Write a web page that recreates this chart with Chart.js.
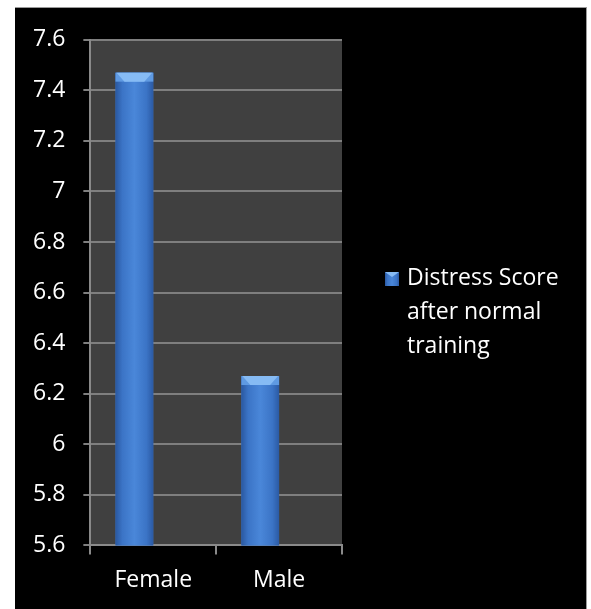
<!DOCTYPE html>
<html>
<head>
<meta charset="utf-8">
<script src="https://cdn.jsdelivr.net/npm/chart.js@4"></script>
<style>
    html, body { margin: 0; padding: 0; background: #fff; }
    #wrap {
        position: absolute;
        left: 15px;
        top: 7px;
        width: 571px;
        height: 602px;
        background: #000;
        border-top: 1px solid #9a9a9a;
        border-right: 1px solid #9a9a9a;
    }
</style>
</head>
<body>
<div id="wrap"><canvas id="barChart"></canvas></div>
<script>
// BAR CHART

const categories = ['Female', 'Male'];
const seriesLabel = ['Distress Score', 'after normal', 'training'];
const distress = [7.47, 6.27];
const emptySeries = [null, null];
const yTicks = [5.6, 5.8, 6, 6.2, 6.4, 6.6, 6.8, 7, 7.2, 7.4, 7.6];

const FONT = 'Open Sans';

function barGradient(ctx, left, right) {
    const g = ctx.createLinearGradient(left, 0, right, 0);
    g.addColorStop(0, '#2a58a0');
    g.addColorStop(0.18, '#3b74c6');
    g.addColorStop(0.5, '#4a87d9');
    g.addColorStop(0.82, '#3b74c6');
    g.addColorStop(1, '#2b5aa4');
    return g;
}

// dark plot area behind the bars
const plotBackground = {
    id: 'plotBackground',
    beforeDraw(chart) {
        const { ctx, chartArea: a } = chart;
        ctx.save();
        ctx.fillStyle = '#404040';
        ctx.fillRect(a.left, a.top, a.right - a.left, a.bottom - a.top);
        ctx.restore();
    }
};

// shading and bevelled top over each bar
const bevelBars = {
    id: 'bevelBars',
    afterDatasetsDraw(chart) {
        const ctx = chart.ctx;
        const bottom = chart.chartArea.bottom;
        chart.getDatasetMeta(0).data.forEach(bar => {
            const { x, y, base, width } = bar.getProps(['x', 'y', 'base', 'width'], true);
            const l = x - width / 2, r = x + width / 2, d = 9;
            const b = Math.min(base, bottom);
            ctx.save();
            ctx.fillStyle = barGradient(ctx, l, r);
            ctx.fillRect(l, y, width, b - y);
            ctx.fillStyle = '#5f9ae2';
            ctx.fillRect(l, y, width, d);
            ctx.fillStyle = '#86bbf4';
            ctx.beginPath();
            ctx.moveTo(l + 1, y);
            ctx.lineTo(r - 1, y);
            ctx.lineTo(r - d, y + d);
            ctx.lineTo(l + d, y + d);
            ctx.closePath();
            ctx.fill();
            ctx.restore();
        });
    }
};

// legend to the right of the plot, wrapped over three lines
const sideLegend = {
    id: 'sideLegend',
    afterDraw(chart) {
        const ctx = chart.ctx;
        const a = chart.chartArea;
        const bx = a.right + 43, by = 264, s = 14;
        ctx.save();
        ctx.fillStyle = barGradient(ctx, bx, bx + s);
        ctx.fillRect(bx, by, s, s);
        ctx.fillStyle = '#86bbf4';
        ctx.beginPath();
        ctx.moveTo(bx, by);
        ctx.lineTo(bx + s, by);
        ctx.lineTo(bx + s / 2, by + 5);
        ctx.closePath();
        ctx.fill();
        ctx.fillStyle = '#fff';
        ctx.font = '23px "' + FONT + '"';
        ctx.textBaseline = 'middle';
        seriesLabel.forEach((line, i) => {
            ctx.fillText(line, bx + 22, by + 6 + i * 34);
        });
        ctx.restore();
    }
};

new Chart(document.getElementById('barChart'), {
    type: 'bar',
    data: {
        labels: categories,
        datasets: [
            {
                label: seriesLabel.join(' '),
                data: distress,
                backgroundColor: '#3f78c8',
                borderWidth: 0,
                categoryPercentage: 0.6,
                barPercentage: 1
            },
            {
                // second slot of each group stays empty
                label: '',
                data: emptySeries,
                categoryPercentage: 0.6,
                barPercentage: 1
            }
        ]
    },
    options: {
        responsive: true,
        maintainAspectRatio: false,
        animation: false,
        layout: { padding: { top: 12, right: 244, left: 0, bottom: 4 } },
        plugins: {
            legend: { display: false },
            tooltip: { enabled: false }
        },
        scales: {
            x: {
                grid: {
                    offset: true,
                    drawOnChartArea: false,
                    color: '#8a8a8a',
                    lineWidth: 2,
                    tickLength: 9
                },
                border: { color: '#8a8a8a', width: 2 },
                ticks: {
                    color: '#fff',
                    padding: 12,
                    font: { family: FONT, size: 23 }
                }
            },
            y: {
                min: 5.6,
                max: 7.6,
                afterBuildTicks(axis) {
                    axis.ticks = yTicks.map(v => ({ value: v }));
                },
                grid: {
                    color: '#7f7f7f',
                    lineWidth: 2,
                    tickLength: 7
                },
                border: { color: '#8a8a8a', width: 2 },
                ticks: {
                    color: '#fff',
                    padding: 18,
                    font: { family: FONT, size: 23 },
                    callback: v => String(v)
                }
            }
        }
    },
    plugins: [plotBackground, bevelBars, sideLegend]
});
</script>
</body>
</html>
